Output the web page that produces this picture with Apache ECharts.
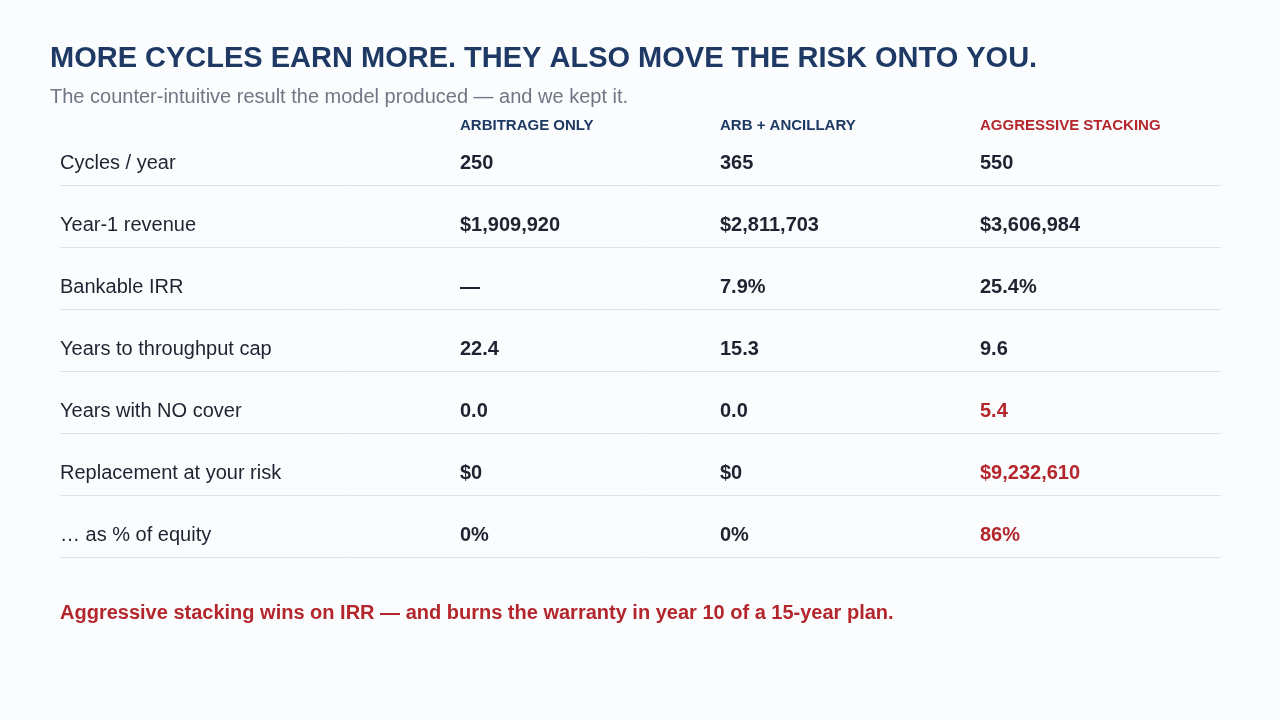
<!DOCTYPE html>
<html>
<head>
<meta charset="utf-8">
<title>More cycles earn more</title>
<script src="https://cdn.jsdelivr.net/npm/echarts@6/dist/echarts.min.js"></script>
<style>
    html, body { margin: 0; padding: 0; background: #fbfcfe; }
    #main { width: 1280px; height: 720px; }
</style>
</head>
<body>
<div id="main"></div>
<script>
// table content
var scenarios = ['ARBITRAGE ONLY', 'ARB + ANCILLARY', 'AGGRESSIVE STACKING'];
var metrics = ['Cycles / year', 'Year-1 revenue', 'Bankable IRR', 'Years to throughput cap',
    'Years with NO cover', 'Replacement at your risk', '\u2026 as % of equity'];
var arbOnly = ['250', '$1,909,920', '\u2014', '22.4', '0.0', '$0', '0%'];
var arbAncillary = ['365', '$2,811,703', '7.9%', '15.3', '0.0', '$0', '0%'];
var aggressive = ['550', '$3,606,984', '25.4%', '9.6', '5.4', '$9,232,610', '86%'];
// rows where the aggressive case is flagged as a risk
var riskRows = [false, false, false, false, true, true, true];

var titleText = 'MORE CYCLES EARN MORE. THEY ALSO MOVE THE RISK ONTO YOU.';
var subText = 'The counter-intuitive result the model produced \u2014 and we kept it.';
var footText = 'Aggressive stacking wins on IRR \u2014 and burns the warranty in year 10 of a 15-year plan.';

var NAVY = '#1e3a64', RED = '#b3262b', INK = '#1d2330', GREY = '#6f7784', RULE = '#dfe2e8';
var FONT = 'Liberation Sans';
// column anchors along the hidden x axis (table spans 0..1161)
var colX = [0, 400, 660, 920];

var columns = [arbOnly, arbAncillary, aggressive];

var chart = echarts.init(document.getElementById('main'));

var option = {
    backgroundColor: '#fbfcfe',
    animation: false,
    title: [
        {
            text: titleText, left: 50, top: 44, padding: 0,
            textStyle: {fontFamily: FONT, fontSize: 29, fontWeight: 'bold', color: NAVY, lineHeight: 29}
        },
        {
            text: subText, left: 50, top: 87, padding: 0,
            textStyle: {fontFamily: FONT, fontSize: 20, fontWeight: 'normal', color: GREY, lineHeight: 20}
        },
        {
            text: footText, left: 60, top: 603, padding: 0,
            textStyle: {fontFamily: FONT, fontSize: 20, fontWeight: 'bold', color: RED, lineHeight: 20}
        }
    ],
    grid: {left: 60, right: 59, top: 132, height: 434},
    xAxis: {type: 'value', min: 0, max: 1161, show: false},
    yAxis: {type: 'category', data: metrics, inverse: true, show: false},
    series: [{
        type: 'custom',
        data: metrics.map(function (m, i) { return [0, i]; }),
        encode: {x: 0, y: 1},
        renderItem: function (params, api) {
            var row = api.value(1);
            var base = api.coord([0, row]);
            var band = api.size([0, 1])[1];
            var y = base[1];
            var children = [];
            children.push({
                type: 'text',
                style: {x: base[0], y: y, text: metrics[row], fill: INK,
                    font: 'normal 20px ' + FONT, verticalAlign: 'middle'}
            });
            for (var c = 0; c < columns.length; c++) {
                var px = api.coord([colX[c + 1], row])[0];
                var red = c === 2 && riskRows[row];
                children.push({
                    type: 'text',
                    style: {x: px, y: y, text: columns[c][row], fill: red ? RED : INK,
                        font: 'bold 20px ' + FONT, verticalAlign: 'middle'}
                });
                if (row === 0) {
                    children.push({
                        type: 'text',
                        style: {x: px, y: y - 37, text: scenarios[c], fill: c === 2 ? RED : NAVY,
                            font: 'bold 15px ' + FONT, verticalAlign: 'middle'}
                    });
                }
            }
            var end = api.coord([1161, row])[0];
            var ly = Math.round(y + band / 2 - 9) + 0.5;
            children.push({
                type: 'line',
                shape: {x1: base[0], y1: ly, x2: end, y2: ly},
                style: {stroke: RULE, lineWidth: 1}
            });
            return {type: 'group', children: children};
        }
    }]
};

chart.setOption(option);
</script>
</body>
</html>
